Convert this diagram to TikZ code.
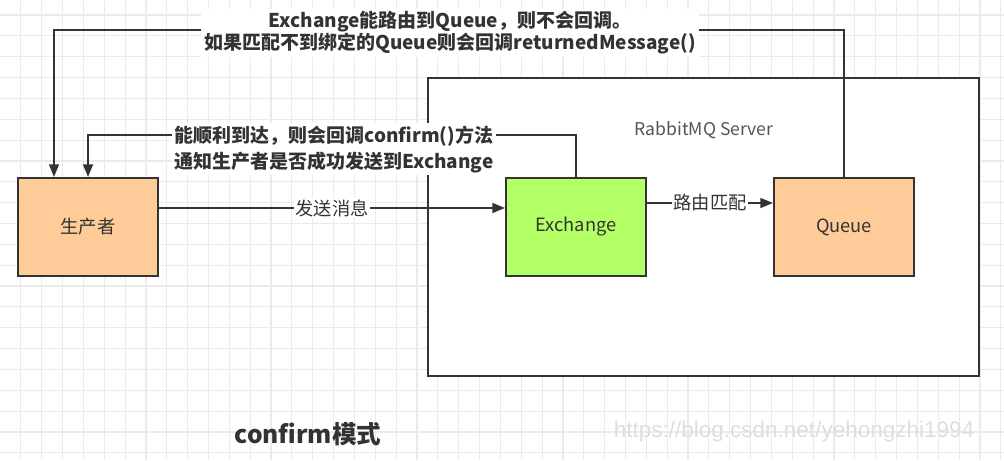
\documentclass[tikz,border=0pt]{standalone}
\usepackage{fontspec}
\setmainfont{Noto Sans CJK SC}
\newfontfamily\wmfont{Liberation Sans}
\usetikzlibrary{arrows.meta,positioning}

\definecolor{linegray}{HTML}{333333}
\definecolor{textgray}{HTML}{333333}
\definecolor{gridgray}{HTML}{EBEBEB}
\definecolor{servergray}{HTML}{555555}
\definecolor{wmgray}{HTML}{DEDEDE}
\definecolor{orangefill}{HTML}{FFCC99}
\definecolor{greenfill}{HTML}{B3FF66}

\begin{document}
\begin{tikzpicture}[x=0.025cm, y=-0.025cm,
    box/.style={draw=linegray, line width=1.4pt, minimum width=3.5cm, minimum height=2.45cm,
        text=textgray, font=\fontsize{13}{15}\selectfont},
    flow/.style={draw=linegray, line width=1.4pt, -{Triangle[length=9pt, width=7pt]}},
    tag/.style={fill=white, inner sep=1pt, text=textgray, font=\fontsize{13}{15}\selectfont},
    note/.style={fill=white, inner sep=2pt, align=center, text=textgray}]
    \useasboundingbox (0,0) rectangle (1004,460);

    % The grid paper
    \fill[white] (0,0) rectangle (1004,460);
    \foreach \gx in {20.85,41.7,...,1004} \draw[gridgray, line width=0.8pt] (\gx,0) -- (\gx,460);
    \foreach \gy in {15,35.85,...,460} \draw[gridgray, line width=0.8pt] (0,\gy) -- (1004,\gy);

    % The server frame and its boxes
    \node[draw=linegray, line width=1.4pt, fill=white, minimum width=13.775cm, minimum height=7.45cm] (server) at (703.5,227) {};
    \node[text=servergray, font=\fontsize{12.5}{14}\selectfont] (servername) at (704,130) {RabbitMQ Server};
    \node[box, fill=orangefill] (producer) at (88,227) {生产者};
    \node[box, fill=greenfill] (exchange) at (576,227) {Exchange};
    \node[box, fill=orangefill] (queue) at (844,227) {Queue};

    % Sending and routing
    \draw[flow] ([yshift=0.475cm]producer.east) -- ([yshift=0.475cm]exchange.west) node[tag, midway] {发送消息};
    \draw[flow] ([yshift=0.6cm]exchange.east) -- ([yshift=0.6cm]queue.west) node[tag, midway] {路由匹配};

    % Callback to the producer (confirm)
    \draw[flow] (exchange.north) -- ++(0,-42) -| (producer.north);
    \node[note, font=\bfseries\fontsize{13.5}{18.5}\selectfont] (confirmnote) at (334,149)
        {能顺利到达，则会回调confirm()方法\\通知生产者是否成功发送到Exchange};

    % Callback to the producer (return)
    \draw[flow] (queue.north) -- ++(0,-147) -| ([xshift=-0.85cm]producer.north);
    \node[note, font=\bfseries\fontsize{13.5}{15.6}\selectfont] (returnnote) at (450,33)
        {Exchange能路由到Queue，则不会回调。\\如果匹配不到绑定的Queue则会回调returnedMessage()};

    % Caption and watermark
    \node[text=textgray, font=\bfseries\fontsize{17.5}{20}\selectfont] (caption) at (308,434) {confirm模式};
    \node[text=wmgray, font=\wmfont\fontsize{16}{18}\selectfont] (watermark) at (794,432) {https://blog.csdn.net/yehongzhi1994};
\end{tikzpicture}
\end{document}
